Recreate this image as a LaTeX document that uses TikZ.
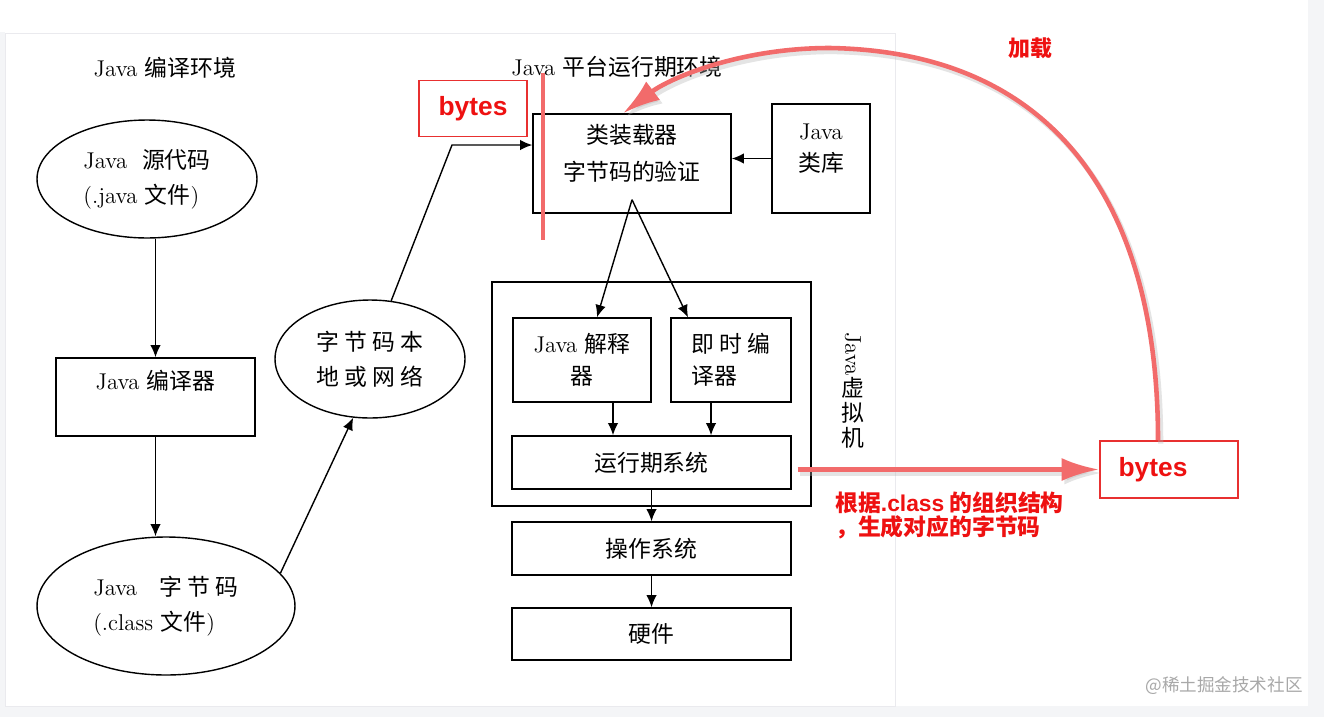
\documentclass[tikz,border=0pt]{standalone}
\usepackage{fontspec}
\usepackage{graphicx}
\usepackage{xcolor}
\usepackage{tikz}
\usetikzlibrary{arrows.meta,positioning,shapes.geometric}
\newfontfamily\cjk{Noto Sans CJK SC}
\newfontfamily\redsans{Liberation Sans}
\definecolor{arcred}{HTML}{F26B6B}
\definecolor{txtred}{HTML}{EE1111}
\definecolor{boxred}{HTML}{E83030}
\definecolor{pagegray}{HTML}{F4F5F7}
\definecolor{framegray}{HTML}{EAEAEE}
\definecolor{wmgray}{HTML}{A8A8A8}

\begin{document}
\begin{tikzpicture}[x=0.02cm, y=-0.02cm, >={Latex[length=7pt,width=6pt]}, every node/.style={font=\fontsize{13}{20}\selectfont}]
\tikzstyle{box}=[draw, line width=0.8pt, align=center, inner sep=0pt]
\tikzstyle{oval}=[draw, ellipse, line width=0.8pt, inner sep=0pt]
\tikzstyle{redbox}=[draw=boxred, line width=1pt, inner sep=0pt, text=txtred, font=\redsans\bfseries\fontsize{15}{18}\selectfont]
\tikzstyle{redpen}=[draw=arcred, line width=2.6pt, -{Latex[length=0.75cm,width=0.46cm]}]
\tikzstyle{redshadow}=[draw=black!30, opacity=0.35, line width=3pt, -{Latex[length=0.75cm,width=0.46cm]}, transform canvas={xshift=1.5pt,yshift=-2pt}]
% page
\useasboundingbox (0,0) rectangle (1324,717);
\fill[white] (0,0) rectangle (1324,717);
\fill[pagegray] (1308,0) rectangle (1324,717);
\fill[pagegray] (0,32) rectangle (5,717);
\fill[pagegray] (0,706) rectangle (1308,717);
\draw[framegray] (5,33) rectangle (895,706);

% compile side
\node (envc) at (165,68) {Java {\cjk 编译环境}};
\node[oval, minimum width=4.4cm, minimum height=2.36cm, align=left] (src) at (147,179) {Java\ \ {\cjk 源代码}\\(.java {\cjk 文件})};
\node[box, minimum width=3.98cm, minimum height=1.56cm, text height=0.35cm, text depth=0.65cm] (javac) at (155.5,397) {Java {\cjk 编译器}};
\node[oval, minimum width=5.16cm, minimum height=2.76cm, align=left] (bc) at (166,606) {Java\quad{\cjk 字 节 码}\\(.class {\cjk 文件})};
\node[oval, minimum width=3.8cm, minimum height=2.36cm, align=center] (net) at (370,359) {{\cjk 字 节 码 本}\\{\cjk 地 或 网 络}};

% runtime side
\node (envr) at (617,67) {Java {\cjk 平台运行期环境}};
\node[box, minimum width=3.96cm, minimum height=1.98cm, font=\fontsize{13}{21}\selectfont] (loader) at (632,163.5) {{\cjk 类装载器}\\{\cjk 字节码的验证}\\[-0.3cm]};
\node[box, minimum width=1.96cm, minimum height=2.18cm, font=\fontsize{13}{18}\selectfont] (lib) at (821,158.5) {Java\\{\cjk 类库}\\[-0.2cm]};
\node[box, minimum width=6.38cm, minimum height=4.48cm] (jvm) at (651.5,394) {};
\node[box, minimum width=2.76cm, minimum height=1.68cm, font=\fontsize{13}{18}\selectfont] (interp) at (582,360) {Java {\cjk 解释}\\{\cjk 器}};
\node[box, minimum width=2.4cm, minimum height=1.68cm, align=left, font=\fontsize{13}{18}\selectfont] (jit) at (731,360) {{\cjk 即 时 编}\\{\cjk 译器}};
\node[box, minimum width=5.58cm, minimum height=1.06cm] (runtime) at (651.5,462.5) {\cjk 运行期系统};
\node[box, minimum width=5.58cm, minimum height=1.06cm] (os) at (651.5,548.5) {\cjk 操作系统};
\node[box, minimum width=5.58cm, minimum height=1.04cm] (hw) at (651.5,634) {\cjk 硬件};
\node[align=center, font=\fontsize{13}{14}\selectfont] (jvmlbl) at (853,390) {\rotatebox{-90}{Java}\\{\cjk 虚}\\{\cjk 拟}\\{\cjk 机}};

% red notes
\node[redbox, minimum width=2.16cm, minimum height=1.12cm] (bytesa) at (473,108.5) {bytes};
\node[redbox, minimum width=2.76cm, minimum height=1.14cm] (bytesb) at (1169,469.5) {bytes\kern0.64cm};
\node[text=txtred, font=\cjk\bfseries\fontsize{12.5}{14}\selectfont] (load) at (1030,48) {加载};
\node[anchor=west, align=left, text=txtred, font=\cjk\bfseries\fontsize{13}{14}\selectfont] (note) at (829,515.5) {根据{\redsans .class} 的组织结构\\，生成对应的字节码};
\node[text=wmgray, font=\cjk\fontsize{10}{12}\selectfont] (wm) at (1224,686) {@稀土掘金技术社区};

% black connectors
\draw[->, line width=0.8pt] (src.south -| javac.north) -- (javac.north);
\draw[->, line width=0.8pt] (javac.south) -- (javac.south |- bc.north);
\draw[->, line width=0.8pt] (bc.16) -- (net.254);
\coordinate (bend) at (452,145);
\draw[->, line width=0.8pt] (net.70) -- (bend) -- (bend -| loader.west);
\draw[->, line width=0.8pt] (lib.west) -- (lib.west -| loader.east);
\coordinate (fork) at ([yshift=0.28cm]loader.south);
\draw[->, line width=0.8pt] (fork) -- ([xshift=0.3cm]interp.north);
\draw[->, line width=0.8pt] (fork) -- ([xshift=-0.86cm]jit.north);
\draw[->, line width=0.8pt] ([xshift=0.62cm]interp.south) -- ([xshift=0.62cm]interp.south |- runtime.north);
\draw[->, line width=0.8pt] ([xshift=-0.4cm]jit.south) -- ([xshift=-0.4cm]jit.south |- runtime.north);
\draw[->, line width=0.8pt] (runtime) -- (os);
\draw[->, line width=0.8pt] (os) -- (hw);

% red marks
\coordinate (cuttop) at (543,73);
\coordinate (cutbot) at (543,240);
\draw[draw=arcred, line width=2.6pt] (cuttop) -- (cutbot);
\draw[redshadow] ([xshift=0.12cm]runtime.east |- bytesb.west) -- (bytesb.west);
\draw[redpen] ([xshift=0.12cm]runtime.east |- bytesb.west) -- (bytesb.west);
\draw[redshadow] ([xshift=-0.22cm]bytesb.north) .. controls (1158,210) and (1060,52) .. (830,48) .. controls (740,48) and (670,78) .. ([xshift=-0.18cm]loader.north);
\draw[redpen] ([xshift=-0.22cm]bytesb.north) .. controls (1158,210) and (1060,52) .. (830,48) .. controls (740,48) and (670,78) .. ([xshift=-0.18cm]loader.north);
\end{tikzpicture}
\end{document}
